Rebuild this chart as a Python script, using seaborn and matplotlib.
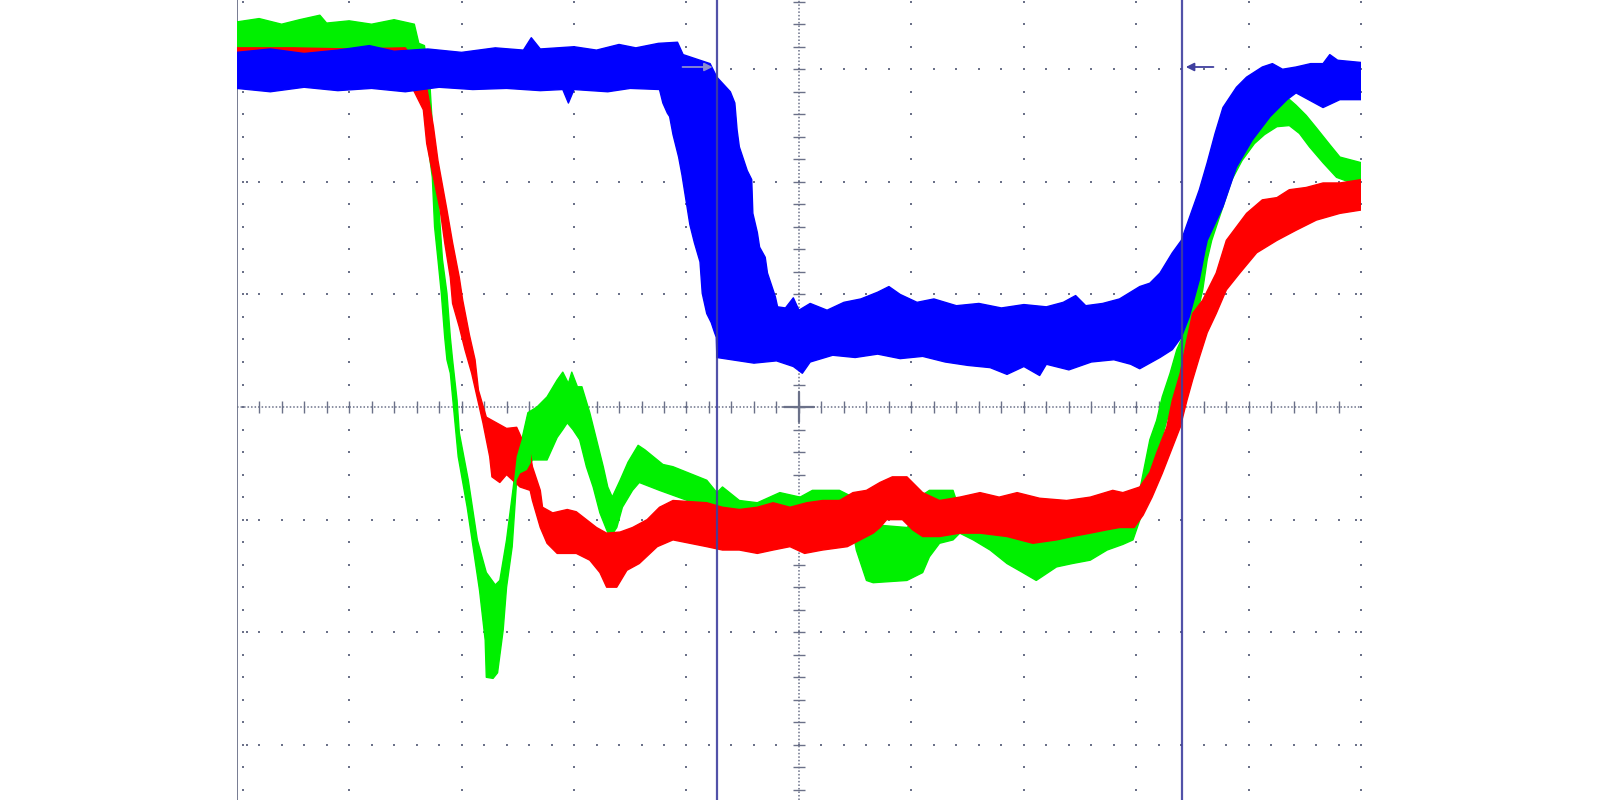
import numpy as np
import pandas as pd
import matplotlib
matplotlib.use("Agg")
import matplotlib.pyplot as plt
from matplotlib.patches import Rectangle
import seaborn as sns

# scope screen units: 10 divisions across, screen centre at (5, 0)
# every trace is a noisy band: upper edge and lower edge

# blue channel
blue_up_x = [0.0, 0.3, 0.6, 0.9, 1.18, 1.4, 1.7, 2.0, 2.3, 2.55, 2.62, 2.7, 3.0, 3.2, 3.4, 3.55, 3.75, 3.92, 3.97,
             4.21, 4.27, 4.39, 4.43, 4.45, 4.47, 4.54, 4.58, 4.59, 4.63, 4.65, 4.70, 4.72, 4.76, 4.79, 4.81, 4.88,
             4.95, 5.0, 5.1, 5.25, 5.4, 5.55, 5.7, 5.8, 5.9, 6.05, 6.2, 6.4, 6.6, 6.8, 7.0, 7.2, 7.35, 7.46, 7.55,
             7.7, 7.85, 8.03, 8.12, 8.21, 8.32, 8.40, 8.56, 8.63, 8.70, 8.77, 8.89, 8.98, 9.12, 9.21, 9.30, 9.42,
             9.55, 9.66, 9.72, 9.79, 10.0]
blue_up_y = [3.15, 3.18, 3.14, 3.17, 3.21, 3.16, 3.18, 3.15, 3.19, 3.17, 3.28, 3.18, 3.20, 3.17, 3.22, 3.19, 3.23,
             3.24, 3.13, 3.05, 2.93, 2.80, 2.70, 2.46, 2.31, 2.10, 2.02, 1.72, 1.55, 1.42, 1.33, 1.19, 1.07, 0.98,
             0.89, 0.88, 0.97, 0.86, 0.92, 0.86, 0.93, 0.96, 1.02, 1.07, 1.00, 0.93, 0.96, 0.90, 0.92, 0.88, 0.91,
             0.89, 0.93, 0.99, 0.90, 0.92, 0.96, 1.07, 1.10, 1.19, 1.37, 1.48, 1.93, 2.17, 2.43, 2.66, 2.84, 2.93,
             3.02, 3.05, 3.00, 3.02, 3.05, 3.05, 3.13, 3.08, 3.06]
blue_lo_x = [0.0, 0.3, 0.6, 0.9, 1.2, 1.5, 1.8, 2.1, 2.4, 2.7, 2.9, 2.95, 3.0, 3.3, 3.5, 3.76, 3.79, 3.83, 3.85,
             3.88, 3.93, 3.96, 4.00, 4.03, 4.07, 4.12, 4.14, 4.18, 4.22, 4.25, 4.265, 4.27, 4.4, 4.6, 4.8, 4.95,
             5.03, 5.1, 5.3, 5.5, 5.7, 5.9, 6.1, 6.3, 6.5, 6.7, 6.85, 7.0, 7.14, 7.2, 7.4, 7.6, 7.8, 7.95, 8.03,
             8.21, 8.32, 8.40, 8.47, 8.56, 8.61, 8.63, 8.77, 8.89, 9.03, 9.19, 9.34, 9.42, 9.55, 9.66, 9.81, 10.0]
blue_lo_y = [2.83, 2.80, 2.84, 2.81, 2.83, 2.80, 2.84, 2.82, 2.83, 2.81, 2.82, 2.70, 2.82, 2.80, 2.83, 2.82, 2.70,
             2.61, 2.58, 2.42, 2.22, 2.06, 1.81, 1.62, 1.46, 1.29, 1.01, 0.83, 0.75, 0.66, 0.62, 0.44, 0.42, 0.39,
             0.41, 0.36, 0.30, 0.40, 0.46, 0.44, 0.47, 0.43, 0.45, 0.40, 0.37, 0.35, 0.29, 0.36, 0.28, 0.38, 0.33,
             0.40, 0.42, 0.38, 0.34, 0.44, 0.51, 0.62, 0.80, 1.13, 1.39, 1.48, 1.78, 2.13, 2.37, 2.58, 2.73, 2.79,
             2.72, 2.66, 2.73, 2.73]

# green channel
green_up_x = [0.0, 0.2, 0.4, 0.56, 0.74, 0.8, 1.0, 1.2, 1.4, 1.58, 1.62, 1.67, 1.72, 1.75, 1.78, 1.81, 1.83, 1.87,
              1.90, 1.92, 1.96, 1.98, 2.06, 2.14, 2.22, 2.30, 2.34, 2.40, 2.46, 2.49, 2.54, 2.59, 2.67, 2.76, 2.85,
              2.90, 2.95, 2.98, 3.03, 3.07, 3.14, 3.20, 3.26, 3.30, 3.34, 3.41, 3.48, 3.57, 3.63, 3.79, 3.88, 4.18,
              4.27, 4.32, 4.47, 4.63, 4.83, 5.01, 5.12, 5.36, 5.48, 5.54, 5.72, 5.96, 6.05, 6.10, 6.16, 6.37, 6.43,
              6.8, 7.4, 7.74, 7.88, 8.00, 8.06, 8.12, 8.18, 8.23, 8.30, 8.36, 8.41, 8.45, 8.49, 8.54, 8.58, 8.61,
              8.65, 8.71, 8.80, 8.89, 9.01, 9.12, 9.27, 9.34, 9.42, 9.51, 9.60, 9.72, 9.81, 10.0]
green_up_y = [3.42, 3.45, 3.40, 3.44, 3.48, 3.41, 3.43, 3.40, 3.44, 3.40, 3.23, 3.21, 2.84, 2.34, 2.04, 1.60, 1.31,
              1.01, 0.62, 0.42, 0.06, -0.23, -0.65, -1.18, -1.47, -1.58, -1.54, -1.18, -0.71, -0.44, -0.27, -0.05,
              0.00, 0.09, 0.24, 0.31, 0.21, 0.31, 0.18, 0.18, -0.05, -0.29, -0.53, -0.71, -0.80, -0.65, -0.49,
              -0.34, -0.38, -0.51, -0.53, -0.65, -0.76, -0.71, -0.83, -0.85, -0.76, -0.80, -0.74, -0.74, -0.80,
              -0.96, -1.05, -1.07, -1.00, -0.78, -0.74, -0.74, -0.92, -0.95, -0.95, -0.96, -1.00, -0.89, -0.59,
              -0.29, -0.12, 0.09, 0.30, 0.51, 0.62, 0.75, 0.89, 1.10, 1.31, 1.48, 1.66, 1.84, 2.13, 2.34, 2.52,
              2.61, 2.68, 2.75, 2.68, 2.59, 2.48, 2.33, 2.22, 2.17]
green_lo_x = [0.0, 1.61, 1.65, 1.69, 1.70, 1.74, 1.76, 1.79, 1.82, 1.85, 1.87, 1.90, 1.97, 2.05, 2.16, 2.21, 2.22,
              2.28, 2.32, 2.37, 2.40, 2.45, 2.47, 2.49, 2.52, 2.58, 2.63, 2.76, 2.85, 2.90, 2.94, 2.99, 3.05, 3.11,
              3.17, 3.23, 3.29, 3.32, 3.38, 3.43, 3.52, 3.58, 3.76, 4.12, 4.63, 5.45, 5.51, 5.60, 5.66, 5.96, 6.10,
              6.16, 6.25, 6.37, 6.43, 6.55, 6.70, 6.85, 6.99, 7.11, 7.29, 7.43, 7.59, 7.74, 7.88, 7.97, 8.07, 8.14,
              8.21, 8.27, 8.34, 8.41, 8.47, 8.54, 8.59, 8.63, 8.67, 8.76, 8.85, 8.94, 9.05, 9.14, 9.25, 9.36, 9.45,
              9.54, 9.66, 9.78, 10.0]
green_lo_y = [3.17, 3.17, 3.00, 2.84, 2.34, 2.04, 1.60, 1.31, 1.01, 0.62, 0.42, 0.30, -0.44, -0.89, -1.63, -2.07,
              -2.40, -2.41, -2.36, -1.98, -1.60, -1.24, -0.94, -0.65, -0.59, -0.56, -0.47, -0.47, -0.27, -0.20,
              -0.14, -0.20, -0.29, -0.53, -0.71, -0.94, -1.09, -1.16, -1.07, -0.89, -0.74, -0.67, -0.74, -0.87,
              -0.93, -0.93, -1.27, -1.54, -1.56, -1.54, -1.47, -1.33, -1.21, -1.18, -1.12, -1.18, -1.27, -1.39,
              -1.47, -1.54, -1.42, -1.39, -1.36, -1.27, -1.22, -1.18, -0.89, -0.60, -0.35, -0.12, 0.06, 0.37, 0.60,
              0.82, 1.04, 1.31, 1.48, 1.75, 2.02, 2.19, 2.34, 2.42, 2.49, 2.50, 2.43, 2.31, 2.17, 2.04, 1.96]

# red channel
red_up_x = [0.0, 0.5, 1.0, 1.50, 1.60, 1.69, 1.75, 1.79, 1.87, 1.92, 1.98, 2.01, 2.07, 2.12, 2.15, 2.22, 2.31, 2.40,
            2.49, 2.54, 2.61, 2.63, 2.70, 2.72, 2.81, 2.94, 3.02, 3.11, 3.20, 3.29, 3.41, 3.52, 3.65, 3.76, 3.88,
            4.18, 4.32, 4.47, 4.63, 4.77, 4.92, 5.07, 5.21, 5.36, 5.48, 5.60, 5.72, 5.83, 5.96, 6.05, 6.10, 6.25,
            6.43, 6.61, 6.78, 6.94, 7.14, 7.38, 7.59, 7.79, 7.88, 8.03, 8.12, 8.18, 8.27, 8.32, 8.39, 8.45, 8.50,
            8.59, 8.71, 8.80, 8.89, 8.98, 9.12, 9.25, 9.36, 9.51, 9.66, 9.81, 10.0]
red_up_y = [3.19, 3.19, 3.18, 3.19, 3.05, 2.84, 2.49, 2.19, 1.75, 1.46, 1.15, 0.95, 0.64, 0.42, 0.15, -0.09, -0.14,
            -0.19, -0.18, -0.29, -0.41, -0.53, -0.74, -0.89, -0.94, -0.91, -0.93, -1.00, -1.07, -1.12, -1.11, -1.07,
            -1.00, -0.89, -0.83, -0.85, -0.89, -0.91, -0.89, -0.85, -0.89, -0.85, -0.83, -0.83, -0.76, -0.74, -0.67,
            -0.62, -0.62, -0.71, -0.76, -0.83, -0.80, -0.76, -0.80, -0.76, -0.81, -0.83, -0.80, -0.74, -0.76, -0.71,
            -0.58, -0.41, -0.18, 0.06, 0.30, 0.60, 0.83, 0.95, 1.19, 1.48, 1.60, 1.72, 1.84, 1.86, 1.93, 1.95, 1.99,
            1.99, 2.02]
red_lo_x = [0.0, 1.50, 1.57, 1.66, 1.69, 1.75, 1.81, 1.85, 1.90, 1.92, 1.98, 2.03, 2.09, 2.19, 2.25, 2.27, 2.34, 2.40,
            2.52, 2.61, 2.63, 2.70, 2.76, 2.85, 2.94, 3.02, 3.14, 3.23, 3.29, 3.38, 3.47, 3.58, 3.74, 3.88, 4.18,
            4.32, 4.47, 4.63, 4.77, 4.92, 5.05, 5.21, 5.43, 5.66, 5.72, 5.78, 5.92, 6.01, 6.10, 6.25, 6.43, 6.61,
            6.85, 7.08, 7.29, 7.43, 7.59, 7.74, 7.85, 7.98, 8.06, 8.14, 8.23, 8.32, 8.39, 8.45, 8.50, 8.56, 8.63,
            8.71, 8.80, 8.92, 9.07, 9.25, 9.42, 9.60, 9.81, 10.0]
red_lo_y = [2.86, 2.86, 2.82, 2.64, 2.34, 2.04, 1.75, 1.46, 1.15, 0.92, 0.71, 0.51, 0.30, -0.14, -0.44, -0.62, -0.67,
            -0.60, -0.71, -0.74, -0.83, -1.07, -1.21, -1.30, -1.30, -1.30, -1.36, -1.47, -1.60, -1.60, -1.45, -1.39,
            -1.24, -1.18, -1.24, -1.27, -1.27, -1.30, -1.27, -1.24, -1.30, -1.27, -1.24, -1.12, -1.07, -1.00, -1.00,
            -1.09, -1.15, -1.15, -1.12, -1.12, -1.15, -1.21, -1.18, -1.15, -1.12, -1.09, -1.07, -1.07, -0.96, -0.80,
            -0.59, -0.36, -0.18, 0.06, 0.24, 0.44, 0.66, 0.83, 1.04, 1.19, 1.37, 1.48, 1.57, 1.66, 1.72, 1.75]

# cursors (division position) and cursor arrow level
cursor_x = [4.267, 8.405]
arrow_y = 3.02

sns.set_style("white")

fig = plt.figure(figsize=(16, 8), dpi=100)
ax = fig.add_axes([0.1479, 0.0, 0.7029, 1.0])
ax.set_xlim(0, 10)
ax.set_ylim(-3.49, 3.615)
ax.axis("off")

grid_col = "#6b7189"

# dotted graticule
dot_y = np.arange(-3.4, 3.61, 0.2)
dot_x = np.arange(0.2, 9.99, 0.2)
for xv in [1, 2, 3, 4, 6, 7, 8, 9, 10]:
    ax.plot(np.full(len(dot_y), xv), dot_y, "s", ms=1.7, color=grid_col, mew=0, zorder=1)
for yv in [-3, -2, -1, 1, 2, 3]:
    ax.plot(dot_x, np.full(len(dot_x), yv), "s", ms=1.7, color=grid_col, mew=0, zorder=1)
    ax.plot([0.094, 9.95], [yv, yv], "s", ms=1.7, color=grid_col, mew=0, zorder=1)
ax.plot(np.full(len(dot_y), 0.053), dot_y, "s", ms=1.7, color=grid_col, mew=0, zorder=1)
ax.axvline(0.0, color=grid_col, lw=1.3, zorder=1)

# centre axes with ticks
ax.axhline(0, color=grid_col, lw=1.1, ls=(0, (1, 1.3)), zorder=1)
ax.axvline(5, color=grid_col, lw=1.1, ls=(0, (1, 1.3)), zorder=1)
ax.plot(dot_x, np.zeros(len(dot_x)), "|", ms=8, mew=1.0, color=grid_col, zorder=1)
ax.plot(np.full(len(dot_y), 5.0), dot_y, "_", ms=9, mew=1.0, color=grid_col, zorder=1)
ax.plot([4.87, 5.13], [0, 0], color=grid_col, lw=1.6, zorder=1)
ax.plot([5, 5], [-0.13, 0.13], color=grid_col, lw=1.6, zorder=1)


def draw_trace(ux, uy, lx, ly, color, z):
    px = np.concatenate([ux, lx[::-1], ux[:1]])
    py = np.concatenate([uy, ly[::-1], uy[:1]])
    poly = ax.fill(px, py, color=color, lw=0, zorder=z)[0]
    edge = pd.DataFrame({"x": px, "y": py})
    sns.lineplot(data=edge, x="x", y="y", sort=False, estimator=None,
                 color=color, lw=1.0, ax=ax, zorder=z)
    return px, py


gx, gy = draw_trace(green_up_x, green_up_y, green_lo_x, green_lo_y, "#00f000", 2)
draw_trace(red_up_x, red_up_y, red_lo_x, red_lo_y, "#ff0000", 3)
draw_trace(blue_up_x, blue_up_y, blue_lo_x, blue_lo_y, "#0000ff", 4)

# green passes over red where the rising edge crosses it
over = ax.fill(gx, gy, color="#00f000", lw=0, zorder=3.5)[0]
over.set_clip_path(Rectangle((2.40, -0.8), 0.22, 0.75, transform=ax.transData))

# cursors
for cx in cursor_x:
    ax.axvline(cx, color="#3f3f9f", lw=1.6, alpha=0.9, zorder=5)

ax.annotate("", xy=(cursor_x[0] - 0.01, arrow_y), xytext=(3.94, arrow_y),
            arrowprops=dict(arrowstyle="-|>", color="#8c8cd0", lw=1.3, mutation_scale=12), zorder=6)
ax.annotate("", xy=(cursor_x[1] + 0.01, arrow_y), xytext=(8.71, arrow_y),
            arrowprops=dict(arrowstyle="-|>", color="#3f3f9f", lw=1.3, mutation_scale=12), zorder=6)

ax.set_xlabel("")
ax.set_ylabel("")
fig.savefig("out.png", dpi=100, facecolor="white")
